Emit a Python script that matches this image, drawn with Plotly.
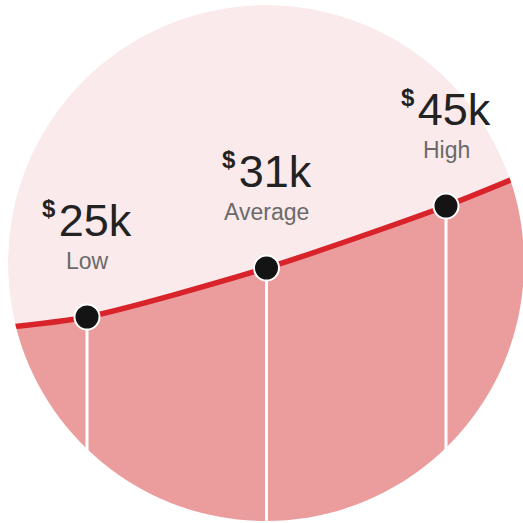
import numpy as np
import plotly.graph_objects as go

# ---- data ----
labels = ["Low", "Average", "High"]
salary_k = [25, 31, 45]                 # $k values shown
point_pos = [0, 1, 2]                   # position of each marker along the curve
point_height = [206, 255, 317]          # curve level at each marker
# curve incl. run-out beyond the circle at both ends
curve_pos = [-0.6, 0, 1, 2, 2.6]
curve_height = [193, 206, 255, 317, 361]

# ---- style ----
BG_CIRCLE = "#fbeaeb"
FILL = "#eb9d9e"
LINE = "#d8232a"
DOT = "#141414"
NUM_COLOR = "#222222"
LAB_COLOR = "#6a6a6a"
FONT = "Liberation Sans, Arial, sans-serif"

W = H = 523
# circle in paper coordinates
cx, cy, r = 266 / W, 1 - 263 / H, 258 / W

fig = go.Figure()

fig.add_trace(go.Scatter(
    x=curve_pos, y=curve_height, mode="lines",
    line=dict(color=LINE, width=5.5, shape="spline", smoothing=0.7),
    fill="tozeroy", fillcolor=FILL, hoverinfo="skip", showlegend=False,
))

vx, vy = [], []
for p, h in zip(point_pos, point_height):
    vx += [p, p, None]
    vy += [h, 0, None]
fig.add_trace(go.Scatter(
    x=vx, y=vy, mode="lines", line=dict(color="white", width=3),
    hoverinfo="skip", showlegend=False,
))

fig.add_trace(go.Scatter(
    x=point_pos, y=point_height, mode="markers",
    marker=dict(size=25, color=DOT, line=dict(color="white", width=2)),
    hoverinfo="skip", showlegend=False,
))

for p, h, v, lab in zip(point_pos, point_height, salary_k, labels):
    fig.add_annotation(
        x=p, y=h, xref="x", yref="y", showarrow=False,
        text=(f"<sup><span style='font-size:24px'><b>$</b></span>"
              f"<span style='font-size:12px'> </span></sup>{v}k"),
        font=dict(family=FONT, size=45, color=NUM_COLOR),
        xanchor="center", yanchor="middle", yshift=97,
    )
    fig.add_annotation(
        x=p, y=h, xref="x", yref="y", showarrow=False,
        text=lab,
        font=dict(family=FONT, size=23, color=LAB_COLOR),
        xanchor="center", yanchor="middle", yshift=56,
    )

# background circle
fig.add_shape(type="circle", xref="paper", yref="paper",
              x0=cx - r, x1=cx + r, y0=cy - r * W / H, y1=cy + r * W / H,
              fillcolor=BG_CIRCLE, line=dict(width=0), layer="below")

# white mask outside the circle (square with circular hole, bezier circle)
k = 0.5523 * r
path = (
    "M -0.05,-0.05 L 1.05,-0.05 L 1.05,1.05 L -0.05,1.05 Z "
    f"M {cx + r},{cy} "
    f"C {cx + r},{cy + k} {cx + k},{cy + r} {cx},{cy + r} "
    f"C {cx - k},{cy + r} {cx - r},{cy + k} {cx - r},{cy} "
    f"C {cx - r},{cy - k} {cx - k},{cy - r} {cx},{cy - r} "
    f"C {cx + k},{cy - r} {cx + r},{cy - k} {cx + r},{cy} Z"
)
fig.add_shape(type="path", xref="paper", yref="paper", path=path,
              fillcolor="white", line=dict(width=0), layer="above",
              fillrule="evenodd")

x0 = -87 / 179.5
fig.update_layout(
    width=W, height=H, margin=dict(l=0, r=0, t=0, b=0),
    paper_bgcolor="white", plot_bgcolor="white",
    xaxis=dict(range=[x0, x0 + W / 179.5], visible=False, fixedrange=True),
    yaxis=dict(range=[0, H], visible=False, fixedrange=True),
    showlegend=False,
)

fig.write_html("out.html")
